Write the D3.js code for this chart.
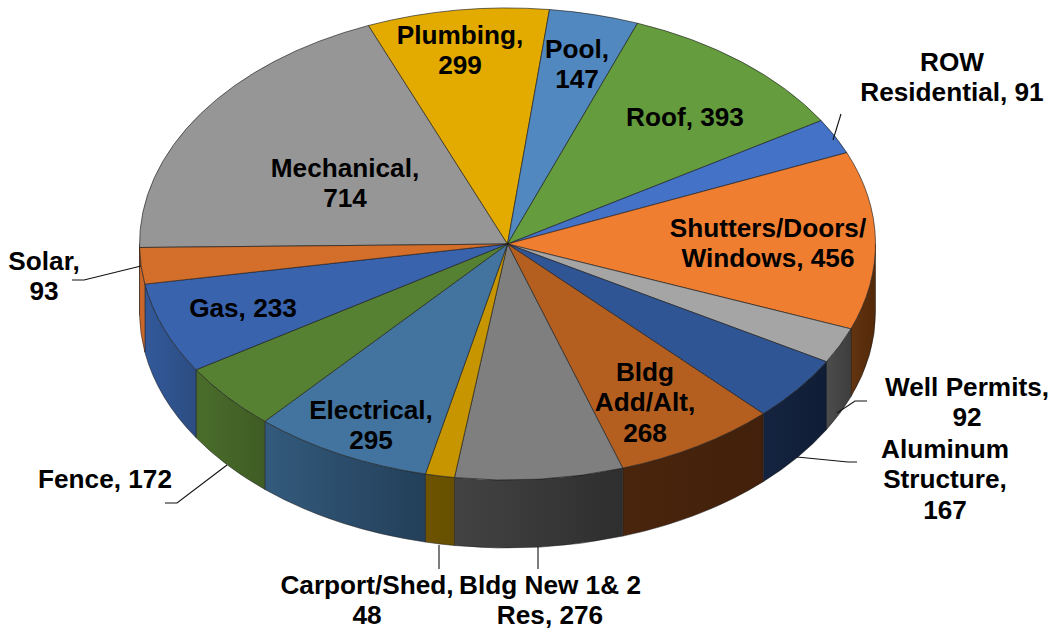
<!DOCTYPE html>
<html><head><meta charset="utf-8">
<script src="https://cdn.jsdelivr.net/npm/d3@7"></script>
<style>html,body{margin:0;padding:0;background:#fff}svg{display:block}text{font-family:"Liberation Sans",Arial,sans-serif;font-weight:700;font-size:26.2px;fill:#000;text-anchor:middle}</style>
</head><body><svg id="c" width="1052" height="629"></svg>
<script>
const categories=["Mechanical","Plumbing","Pool","Roof","ROW Residential","Shutters/Doors/Windows","Well Permits","Aluminum Structure","Bldg Add/Alt","Bldg New 1& 2 Res","Carport/Shed","Electrical","Fence","Gas","Solar"];
const values=[714,299,147,393,91,456,92,167,268,276,48,295,172,233,93];
const topColors=["#969696","#e3ab00","#5188c0","#649c3e","#4472c6","#f07e30","#a5a5a5","#305594","#b45e20","#7f7f7f","#c69500","#43749f","#568133","#3a63ae","#d36e2b"];
const sideLight=["#6a6a6a","#8a6800","#3a6088","#46702c","#2f518c","#633410","#4c4c4c","#14233f","#4a250d","#434343","#6e5300","#335a7c","#4a6d2b","#33599a","#c9672a"];
const sideDark=["#6a6a6a","#8a6800","#3a6088","#46702c","#2f518c","#52290a","#3e3e3e","#101d36","#42200b","#2e2e2e","#665000","#233f59","#3e5c24","#2c4d82","#c9672a"];
const labelLines=[["Mechanical,","714"],["Plumbing,","299"],["Pool,","147"],["Roof, 393"],["ROW","Residential, 91"],["Shutters/Doors/","Windows, 456"],["Well Permits,","92"],["Aluminum","Structure,","167"],["Bldg","Add/Alt,","268"],["Bldg New 1& 2","Res, 276"],["Carport/Shed,","48"],["Electrical,","295"],["Fence, 172"],["Gas, 233"],["Solar,","93"]];

// layout (not data)
const W=1052,H=629,cx=507.5,cy=244,rx=368,ry=236,depth=68,lh=30.4;
const rad=d=>d*Math.PI/180;
const start=rad(-90.85);
const labelPos=[[345,177],[460,44],[577,58],[685,126],[952,71],[768,237],[967,396],[945,458],[645,381],[550,594],[367,594],[371,419],[105,488],[243,317],[44,270]];
const leaders=[null,null,null,null,[[833,140],[841,114]],null,[[837,413],[855,401],[867,401]],[[797,457],[848,462],[857,462]],null,[[538,547],[538,569]],[[439,545],[439,569]],null,[[227,465],[177,503],[165,503]],null,[[141,266],[84,280],[72,280]]];

const svg=d3.select("#c");
const pie=d3.pie().sort(null).startAngle(start).endAngle(start+2*Math.PI);
const arcs=pie(values);
const x=d3.scaleLinear().domain([-1,1]).range([cx-rx,cx+rx]);
const y=d3.scaleLinear().domain([-1,1]).range([cy-ry,cy+ry]);
const rim=(a,dy=0)=>[x(Math.sin(a)),y(-Math.cos(a))+dy];

// side wall: only the part of each slice facing the viewer
const defs=svg.append("defs");
const sideData=arcs.map((d,i)=>{
  let a0=d.startAngle,a1=d.endAngle;
  if(a0<0){a0+=2*Math.PI;a1+=2*Math.PI;}
  const v0=Math.max(a0,Math.PI/2),v1=Math.min(a1,3*Math.PI/2);
  return v1>v0?{i,a0:v0,a1:v1}:null;
}).filter(Boolean);
sideData.forEach(s=>{
  const xa=rim(s.a0)[0],xb=rim(s.a1)[0];
  const g=defs.append("linearGradient").attr("id","g"+s.i).attr("gradientUnits","userSpaceOnUse")
    .attr("x1",xb).attr("x2",xa).attr("y1",0).attr("y2",0);
  g.append("stop").attr("offset",0).attr("stop-color",sideLight[s.i]);
  g.append("stop").attr("offset",1).attr("stop-color",sideDark[s.i]);
});
svg.append("g").selectAll("path").data(sideData).join("path")
  .attr("d",s=>{
    const a=rim(s.a0),b=rim(s.a1),c=rim(s.a1,depth),e=rim(s.a0,depth);
    return `M${a}A${rx},${ry} 0 0 1 ${b}L${c}A${rx},${ry} 0 0 0 ${e}Z`;
  })
  .attr("fill",s=>`url(#g${s.i})`)
  .attr("stroke","#1c1c1c").attr("stroke-width",0.7).attr("stroke-opacity",0.75);

// top face
const arc=d3.arc().innerRadius(0).outerRadius(rx);
svg.append("g").attr("transform",`translate(${cx},${cy}) scale(1,${ry/rx})`)
  .selectAll("path").data(arcs).join("path")
  .attr("d",arc).attr("fill",(d,i)=>topColors[i])
  .attr("stroke","#1c1c1c").attr("stroke-width",0.8).attr("stroke-opacity",0.8)
  .attr("vector-effect","non-scaling-stroke");

// leader lines
const line=d3.line();
svg.append("g").selectAll("path").data(leaders.filter(Boolean)).join("path")
  .attr("d",line).attr("fill","none").attr("stroke","#111").attr("stroke-width",1.1);

// labels
const t=svg.append("g").selectAll("text").data(labelLines).join("text")
  .attr("x",(d,i)=>labelPos[i][0]).attr("y",(d,i)=>labelPos[i][1]);
t.selectAll("tspan").data((d,i)=>d.map(s=>({s,x:labelPos[i][0]}))).join("tspan")
  .attr("x",d=>d.x).attr("dy",(d,i)=>i?lh:0).text(d=>d.s);
</script></body></html>
